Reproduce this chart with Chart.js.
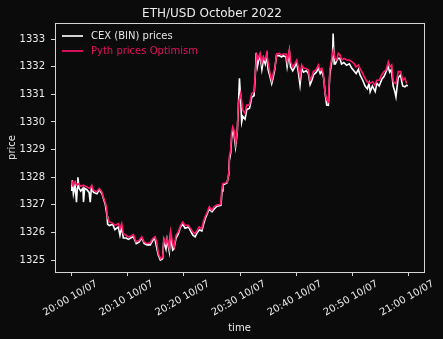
<!DOCTYPE html>
<html>
<head>
<meta charset="utf-8">
<script src="https://cdn.jsdelivr.net/npm/chart.js@4.4.0/dist/chart.umd.min.js"></script>
<style>
  html, body { margin: 0; padding: 0; background: #0b0b0b; }
  #wrap { width: 443px; height: 339px; position: relative; }
</style>
</head>
<body>
<div id="wrap"><canvas id="c" width="443" height="339"></canvas></div>
<script>
// ---- data (minutes after 20:00 on 10/07) ----
const cexTimes = [0.0,0.1,0.3,0.6,0.85,1.0,1.1,1.3,1.6,2.0,2.1,2.3,2.7,3.1,3.3,3.5,3.9,4.5,4.9,5.4,5.7,6.0,6.3,6.4,6.7,7.3,7.7,8.3,8.6,8.9,9.2,9.7,10.1,10.5,11.0,11.5,12.0,12.5,12.9,13.4,14.0,14.4,14.8,15.1,15.4,15.8,16.2,16.4,16.8,17.0,17.4,17.6,18.0,18.2,18.6,19.0,19.4,19.8,20.2,20.8,21.2,21.6,22.0,22.4,22.8,23.2,23.5,23.8,24.2,24.5,25.0,25.4,25.9,26.6,26.8,26.95,27.3,27.7,28.0,28.1,28.35,28.5,28.7,28.9,29.2,29.5,29.7,29.9,30.1,30.3,30.5,30.9,31.2,31.7,32.1,32.5,32.7,32.9,33.1,33.3,33.6,33.9,34.2,34.5,34.8,35.0,35.4,35.65,35.9,36.2,36.5,37.0,37.4,37.7,38.2,38.4,38.8,39.0,39.4,39.8,40.1,40.4,40.7,41.0,41.3,41.8,42.2,42.5,42.8,43.1,43.6,44.0,44.3,44.6,44.9,45.2,45.45,45.75,46.0,46.3,46.5,46.6,46.8,47.0,47.2,47.5,47.8,48.1,48.5,49.0,49.5,49.9,50.3,50.7,51.1,51.4,51.9,52.3,52.7,53.0,53.2,53.6,54.1,54.4,54.8,55.3,55.7,56.0,56.4,56.7,57.0,57.3,57.6,57.8,58.2,58.6,59.0,59.4,59.7,59.9];
const cexPrices = [1327.5,1327.9,1327.4,1327.7,1327.1,1327.6,1328.0,1327.6,1327.5,1327.6,1327.1,1327.6,1327.55,1327.45,1327.1,1327.6,1327.45,1327.4,1327.55,1327.4,1327.2,1327.0,1326.6,1326.3,1326.25,1326.3,1326.1,1326.2,1325.9,1326.2,1325.8,1325.8,1325.75,1325.8,1325.85,1325.6,1325.65,1325.8,1325.6,1325.55,1325.55,1325.7,1325.8,1325.5,1325.2,1325.0,1325.05,1325.7,1325.4,1325.75,1325.3,1325.9,1325.36,1325.4,1325.8,1325.95,1326.2,1326.3,1326.15,1326.2,1326.05,1325.9,1325.84,1326.0,1326.1,1326.05,1326.3,1326.5,1326.7,1326.85,1326.75,1326.85,1326.95,1326.98,1327.5,1327.72,1327.75,1327.8,1328.1,1328.6,1328.9,1329.4,1329.7,1329.6,1329.1,1329.6,1330.5,1331.58,1330.9,1330.0,1330.2,1330.1,1330.45,1330.5,1330.9,1330.95,1331.6,1332.5,1332.0,1332.2,1332.4,1331.9,1332.3,1332.1,1332.4,1331.9,1331.6,1331.39,1331.6,1331.9,1332.4,1332.4,1332.35,1332.4,1332.35,1332.0,1332.55,1332.0,1331.85,1332.0,1332.15,1331.8,1331.33,1331.95,1331.8,1331.85,1331.75,1331.35,1331.5,1331.7,1331.8,1331.95,1331.75,1331.85,1331.6,1331.0,1330.61,1330.6,1331.7,1332.1,1332.4,1333.2,1332.1,1332.1,1332.2,1332.3,1332.3,1332.1,1332.15,1332.05,1332.1,1331.95,1331.85,1331.75,1331.9,1331.7,1331.5,1331.3,1331.2,1331.4,1331.09,1331.3,1331.1,1331.4,1331.3,1331.55,1331.65,1331.8,1332.0,1331.8,1331.9,1331.3,1331.1,1330.91,1331.6,1331.7,1331.3,1331.27,1331.33,1331.3];

const pythTimes = [0.0,0.18,0.59,0.89,1.18,1.60,2.07,2.67,3.26,3.57,3.85,4.46,4.92,5.35,5.63,5.94,6.24,6.35,6.70,7.31,7.72,8.31,8.61,8.91,9.20,9.68,10.09,10.52,10.98,11.46,12.05,12.48,12.89,13.37,13.96,14.44,14.85,15.15,15.44,15.86,16.22,16.45,16.81,17.04,17.40,17.65,18.00,18.24,18.59,19.00,19.43,19.79,20.20,20.78,21.21,21.57,21.98,22.39,22.75,23.17,23.46,23.76,24.17,24.53,24.96,25.37,25.85,26.56,26.74,26.92,27.33,27.74,28.04,28.09,28.34,28.48,28.70,28.93,29.23,29.52,29.70,30.12,30.48,30.89,31.19,31.66,32.09,32.50,32.73,32.98,33.26,33.57,33.87,34.15,34.46,34.76,35.04,35.35,35.65,35.94,36.24,36.54,37.00,37.43,37.72,38.20,38.43,38.79,39.04,39.39,39.80,40.11,40.39,40.70,41.00,41.28,41.76,42.18,42.48,42.78,43.07,43.55,43.96,44.26,44.56,44.85,45.15,45.45,45.74,46.04,46.35,46.63,46.93,47.24,47.52,47.83,48.13,48.54,49.02,49.48,49.91,50.32,50.68,51.09,51.39,51.87,52.28,52.69,53.17,53.65,54.06,54.37,54.83,55.26,55.67,56.03,56.44,56.74,57.04,57.33,57.81,58.22,58.65,59.00,59.41,59.68];
const pythPrices = [1327.89,1327.71,1327.83,1327.71,1327.77,1327.67,1327.71,1327.65,1327.59,1327.71,1327.53,1327.47,1327.59,1327.47,1327.29,1327.11,1326.87,1326.56,1326.38,1326.34,1326.26,1326.32,1326.14,1326.32,1325.96,1325.90,1325.84,1325.86,1325.93,1325.66,1325.72,1325.84,1325.66,1325.60,1325.62,1325.78,1325.84,1325.66,1325.24,1325.05,1325.11,1325.78,1325.60,1325.78,1325.42,1326.02,1325.60,1325.47,1325.90,1326.02,1326.26,1326.38,1326.26,1326.26,1326.14,1326.02,1325.96,1326.08,1326.20,1326.14,1326.38,1326.56,1326.74,1326.93,1326.80,1326.93,1326.99,1327.02,1327.53,1327.77,1327.79,1327.83,1328.25,1328.74,1329.00,1329.58,1329.82,1329.70,1329.22,1329.70,1330.67,1331.03,1330.43,1330.31,1330.61,1330.61,1331.03,1331.09,1331.76,1332.42,1332.30,1332.48,1332.12,1332.36,1332.24,1332.48,1332.12,1331.76,1331.51,1331.76,1331.99,1332.46,1332.48,1332.42,1332.46,1332.46,1332.18,1332.60,1332.18,1331.99,1332.12,1332.24,1331.99,1331.63,1332.06,1331.94,1331.94,1331.88,1331.51,1331.63,1331.82,1331.88,1332.06,1331.88,1331.94,1331.76,1331.09,1330.79,1330.73,1331.94,1332.30,1332.60,1332.30,1332.24,1332.48,1332.42,1332.24,1332.30,1332.24,1332.24,1332.18,1332.12,1331.99,1332.06,1331.94,1331.76,1331.58,1331.45,1331.39,1331.45,1331.33,1331.51,1331.51,1331.70,1331.82,1331.88,1332.18,1331.99,1332.06,1331.45,1331.39,1331.82,1331.82,1331.51,1331.58,1331.39];

const xTickMinutes = [0, 10, 20, 30, 40, 50, 60];
const xTickLabels = ['20:00 10/07','20:10 10/07','20:20 10/07','20:30 10/07','20:40 10/07','20:50 10/07','21:00 10/07'];
const yTicks = [1325,1326,1327,1328,1329,1330,1331,1332,1333];

const seriesNames = ['CEX (BIN) prices', 'Pyth prices Optimism'];
const titleText = 'ETH/USD October 2022';

// ---- chart ----
const FONT = "'DejaVu Sans', sans-serif";
const TEXT = '#ececec';
const SPINE = '#d4d4d4';
const WHITE = '#ffffff';
const PINK = '#ff1a6c';

const toPts = (t, v) => t.map((x, i) => ({x: x, y: v[i]}));

const frame = {
  id: 'frame',
  afterDatasetsDraw(chart) {
    const {ctx, chartArea: a} = chart;
    ctx.save();
    ctx.strokeStyle = SPINE;
    ctx.lineWidth = 1;
    ctx.strokeRect(Math.round(a.left) + 0.5, Math.round(a.top) + 0.5, Math.round(a.right - a.left), Math.round(a.bottom - a.top));
    // legend
    const items = [
      {label: seriesNames[0], line: '#d2d2d2', text: '#e4e4e4'},
      {label: seriesNames[1], line: '#d3115a', text: '#e3115f'}
    ];
    ctx.font = '10px ' + FONT;
    ctx.textBaseline = 'middle';
    ctx.textAlign = 'left';
    items.forEach((it, i) => {
      const y = a.top + 13 + i * 15;
      ctx.strokeStyle = it.line;
      ctx.lineWidth = 2;
      ctx.beginPath();
      ctx.moveTo(a.left + 7, y);
      ctx.lineTo(a.left + 28, y);
      ctx.stroke();
      ctx.fillStyle = it.text;
      ctx.fillText(it.label, a.left + 36, y);
    });
    ctx.restore();
  }
};

new Chart(document.getElementById('c'), {
  type: 'line',
  data: {
    datasets: [
      {
        label: seriesNames[1],
        data: toPts(pythTimes, pythPrices),
        borderColor: PINK,
        borderWidth: 1.6,
        pointRadius: 0,
        tension: 0,
        fill: false
      },
      {
        label: seriesNames[0],
        data: toPts(cexTimes, cexPrices),
        borderColor: WHITE,
        borderWidth: 1.6,
        pointRadius: 0,
        tension: 0,
        fill: false
      }
    ]
  },
  options: {
    responsive: false,
    animation: false,
    devicePixelRatio: 1,
    layout: { padding: { left: 0, right: 19, top: 0, bottom: 0 } },
    plugins: {
      legend: { display: false },
      tooltip: { enabled: false },
      title: {
        display: true,
        text: titleText,
        color: TEXT,
        font: { family: FONT, size: 12, weight: 'normal' },
        padding: { top: 7, bottom: 1.6 }
      }
    },
    scales: {
      x: {
        type: 'linear',
        min: -2.98,
        max: 62.8,
        afterFit(s) { s.height = 67; },
        afterBuildTicks(s) { s.ticks = xTickMinutes.map(v => ({value: v})); },
        ticks: {
          color: TEXT,
          font: { family: FONT, size: 10 },
          minRotation: 30,
          maxRotation: 30,
          autoSkip: false,
          includeBounds: false,
          labelOffset: 25,
          padding: 2,
          callback: (v) => { const i = xTickMinutes.indexOf(v); return i >= 0 ? xTickLabels[i] : ''; }
        },
        grid: { drawOnChartArea: false, drawTicks: true, tickLength: 4, color: SPINE, lineWidth: 1 },
        border: { display: true, color: SPINE, width: 1 },
        title: { display: true, text: 'time', color: TEXT, font: { family: FONT, size: 10 }, padding: { top: 0, bottom: 5 } }
      },
      y: {
        type: 'linear',
        min: 1324.57,
        max: 1333.58,
        afterFit(s) { s.width = 55; },
        afterBuildTicks(s) { s.ticks = yTicks.map(v => ({value: v})); },
        ticks: {
          color: TEXT,
          font: { family: FONT, size: 10 },
          padding: 6,
          includeBounds: false,
          callback: (v) => String(v)
        },
        grid: { drawOnChartArea: false, drawTicks: true, tickLength: 4, color: SPINE, lineWidth: 1 },
        border: { display: true, color: SPINE, width: 1 },
        title: { display: true, text: 'price', color: TEXT, font: { family: FONT, size: 10 }, padding: { top: 6, bottom: 0 } }
      }
    }
  },
  plugins: [frame]
});
</script>
</body>
</html>
